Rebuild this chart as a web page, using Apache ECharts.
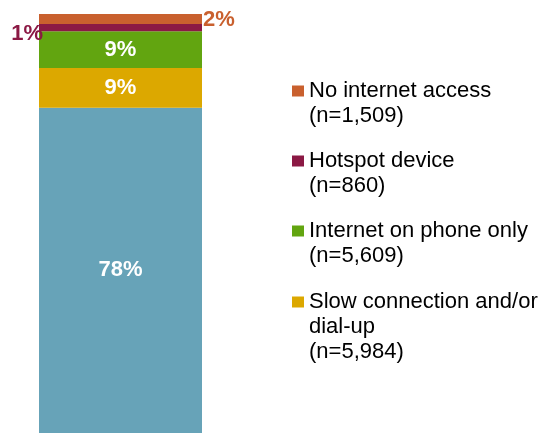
<!DOCTYPE html>
<html>
<head>
<meta charset="utf-8">
<script src="https://cdn.jsdelivr.net/npm/echarts@6/dist/echarts.min.js"></script>
<style>
html,body{margin:0;padding:0;background:#fff;}
#chart{width:548px;height:433px;}
</style>
</head>
<body>
<div id="chart"></div>
<script>
// ---- data ----
const categories = ['All respondents'];
const seriesNames = ['Fast connection', 'Slow connection and/or dial-up', 'Internet on phone only', 'Hotspot device', 'No internet access'];
const values = [77.6, 9.5, 8.8, 1.7, 2.4];
const valueLabels = ['78%', '9%', '9%', '1%', '2%'];
const sampleSizes = ['', '(n=5,984)', '(n=5,609)', '(n=860)', '(n=1,509)'];
const legendWrapped = {'Slow connection and/or dial-up': 'Slow connection and/or\ndial-up'};

// ---- styles ----
const palette = ['#67A3B8', '#DCA800', '#62A510', '#8B1944', '#C9602E'];
const FONT = '"Liberation Sans", Arial, sans-serif';

const chart = echarts.init(document.getElementById('chart'), null, {renderer: 'canvas'});

function labelFor(i) {
  const base = {
    show: true,
    fontFamily: FONT,
    fontWeight: 'bold',
    fontSize: 22,
    formatter: () => valueLabels[i]
  };
  if (i <= 2) return Object.assign(base, {position: 'inside', color: '#ffffff'});
  if (i === 3) return Object.assign(base, {position: 'left', distance: -4, offset: [0, 6], color: palette[i]});
  return Object.assign(base, {position: 'right', distance: 1, offset: [0, 1], color: palette[i]});
}

const series = seriesNames.map((name, i) => ({
  name: name,
  type: 'bar',
  stack: 'total',
  barWidth: '100%',
  data: [values[i]],
  itemStyle: {color: palette[i]},
  label: labelFor(i),
  emphasis: {disabled: true}
}));

// Leading blank lines keep the first text line level with the legend square
function legendFormatter(name) {
  const idx = seriesNames.indexOf(name);
  const text = (legendWrapped[name] || name) + '\n' + sampleSizes[idx];
  const extra = text.split('\n').length - 1;
  return '\n'.repeat(extra) + text;
}

const legendBase = {
  orient: 'vertical',
  left: 292,
  padding: 0,
  itemWidth: 12,
  itemHeight: 11,
  itemGap: -5,
  icon: 'rect',
  selectedMode: false,
  formatter: legendFormatter,
  textStyle: {fontFamily: FONT, fontSize: 22, color: '#000000', lineHeight: 25}
};

chart.setOption({
  animation: false,
  backgroundColor: '#ffffff',
  grid: {left: 39, right: 346, top: 14, bottom: 0, containLabel: false},
  xAxis: {type: 'category', data: categories, show: false},
  yAxis: {type: 'value', min: 0, max: 100, show: false},
  legend: [
    Object.assign({}, legendBase, {
      top: 53.5,
      data: [seriesNames[4], seriesNames[3], seriesNames[2]]
    }),
    Object.assign({}, legendBase, {
      top: 239.5,
      data: [seriesNames[1]]
    })
  ],
  series: series
});
</script>
</body>
</html>
